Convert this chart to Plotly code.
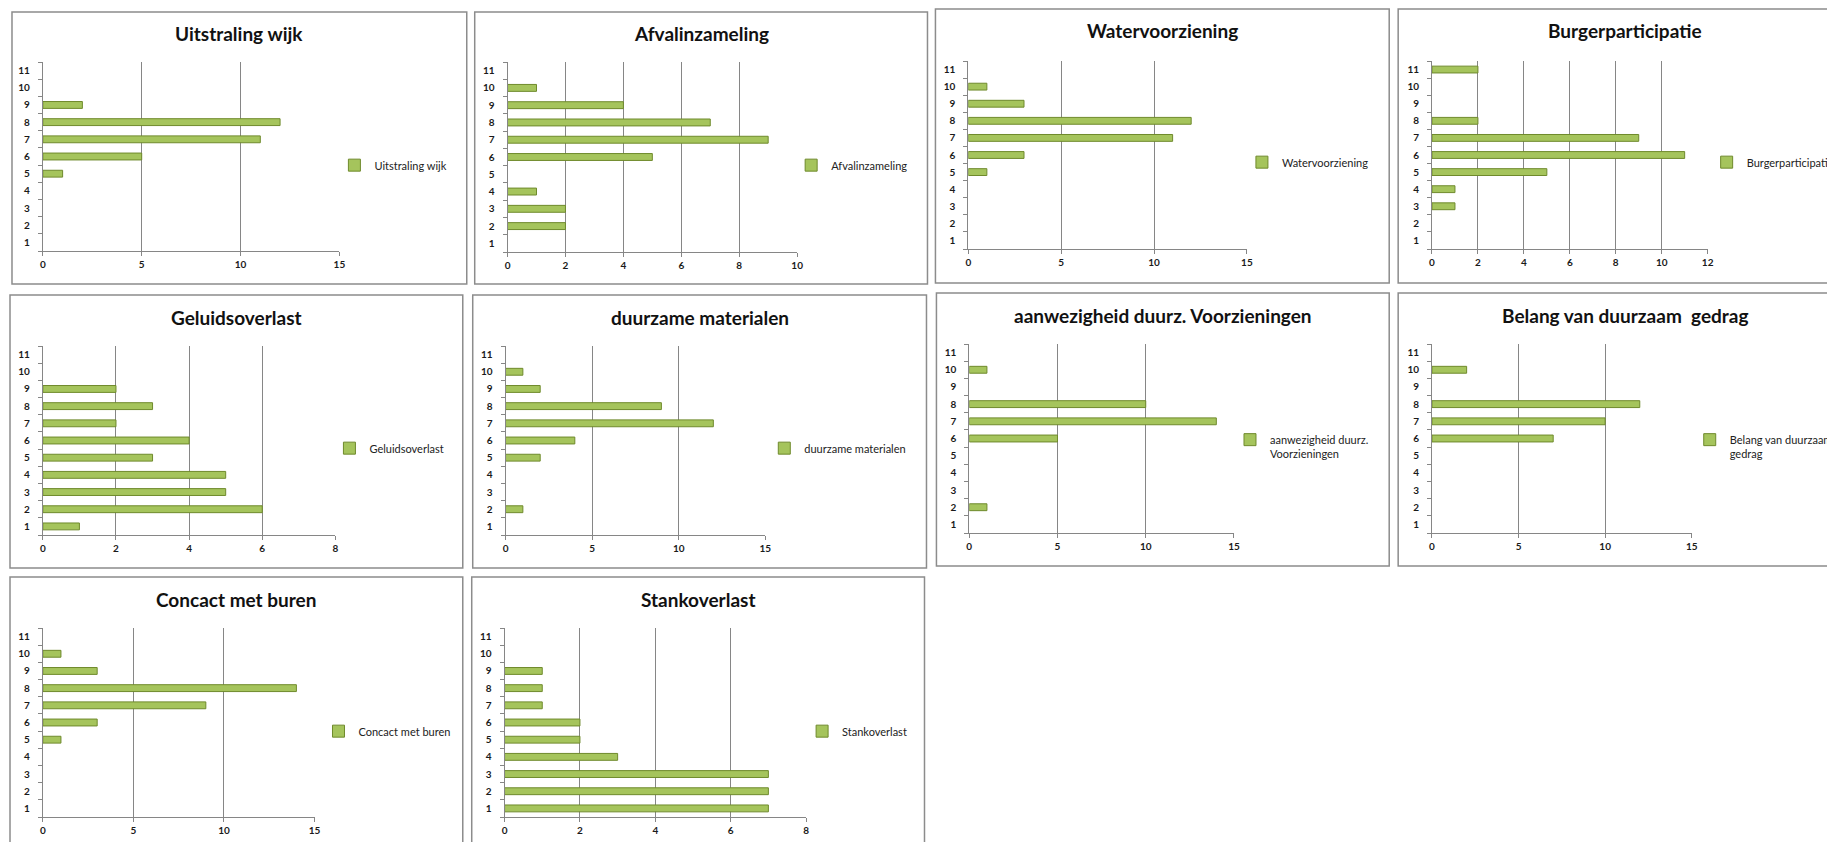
import plotly.graph_objects as go

# survey scores 1..11, count of answers per score
categories = list(range(1, 12))

uitstraling_wijk = [None, None, None, None, 1, 5, 11, 12, 2, None, None]
afvalinzameling = [None, 2, 2, 1, None, 5, 9, 7, 4, 1, None]
watervoorziening = [None, None, None, None, 1, 3, 11, 12, 3, 1, None]
burgerparticipatie = [None, None, 1, 1, 5, 11, 9, 2, None, None, 2]
geluidsoverlast = [1, 6, 5, 5, 3, 4, 2, 3, 2, None, None]
duurzame_materialen = [None, 1, None, None, 2, 4, 12, 9, 2, 1, None]
aanwezigheid_voorzieningen = [None, 1, None, None, None, 5, 14, 10, None, 1, None]
belang_duurzaam_gedrag = [None, None, None, None, None, 7, 10, 12, None, 2, None]
concact_met_buren = [None, None, None, None, 1, 3, 9, 14, 3, 1, None]
stankoverlast = [7, 7, 7, 3, 2, 2, 1, 1, 1, None, None]

titles = [
    "Uitstraling wijk", "Afvalinzameling", "Watervoorziening", "Burgerparticipatie",
    "Geluidsoverlast", "duurzame materialen", "aanwezigheid duurz. Voorzieningen",
    "Belang van duurzaam  gedrag", "Concact met buren", "Stankoverlast",
]
legend_names = [
    "Uitstraling wijk", "Afvalinzameling", "Watervoorziening", "Burgerparticipatie",
    "Geluidsoverlast", "duurzame materialen", "aanwezigheid duurz.<br>Voorzieningen",
    "Belang van duurzaam<br>gedrag", "Concact met buren", "Stankoverlast",
]
series = [
    uitstraling_wijk, afvalinzameling, watervoorziening, burgerparticipatie,
    geluidsoverlast, duurzame_materialen, aanwezigheid_voorzieningen,
    belang_duurzaam_gedrag, concact_met_buren, stankoverlast,
]
x_max = [15, 10, 15, 12, 8, 15, 15, 15, 15, 8]
x_step = [5, 2, 5, 2, 2, 5, 5, 5, 5, 2]

W, H = 1835, 842
OFF = 8  # the page body adds an 8px margin around the figure

# page pixel layout: (box x0, x1, y0, y1), (plot x0, x1, y0, y1), (legend marker x, y)
panels = [
    ((9, 466, 12, 284), (40, 338, 62, 251), (363, 166)),
    ((474, 929, 12, 284), (507, 798, 62, 252), (822, 166)),
    ((937, 1393, 9, 283), (970, 1250, 61, 249), (1275, 163)),
    ((1402, 1858, 9, 283), (1436, 1713, 61, 249), (1742, 163)),
    ((7, 462, 295, 568), (40, 334, 346, 535), (358, 449)),
    ((472, 928, 295, 568), (505, 766, 346, 535), (795, 449)),
    ((938, 1393, 293, 566), (971, 1237, 344, 533), (1263, 447)),
    ((1402, 1858, 293, 566), (1436, 1697, 344, 533), (1725, 447)),
    ((7, 462, 577, 860), (40, 313, 628, 817), (347, 732)),
    ((471, 926, 577, 860), (504, 807, 628, 817), (833, 732)),
]


def px_x(v):
    return (v - OFF) / W


def px_y(v):
    return 1 - (v - OFF) / H


FONT = "Lato"
GRID = "#868686"
BAR_FILL = "#a5c45c"
BAR_EDGE = "#6f8a2c"

fig = go.Figure()
layout = dict(shapes=[], annotations=[])

for i, (box, plot, leg) in enumerate(panels):
    n = "" if i == 0 else str(i + 1)
    legend_key = "legend" + n

    fig.add_trace(go.Bar(
        y=categories,
        x=series[i],
        orientation="h",
        width=0.4,
        name=legend_names[i],
        marker=dict(color=BAR_FILL, line=dict(color=BAR_EDGE, width=1)),
        xaxis="x" + n,
        yaxis="y" + n,
        legend=legend_key,
        showlegend=True,
    ))

    px0, px1, py0, py1 = plot
    layout["xaxis" + n] = dict(
        domain=[px_x(px0), px_x(px1)],
        anchor="y" + n,
        range=[0, x_max[i]],
        dtick=x_step[i],
        tick0=0,
        showgrid=True, gridcolor=GRID, gridwidth=1,
        zeroline=False,
        showline=True, linecolor=GRID, linewidth=1,
        ticks="outside", ticklen=4, tickcolor=GRID,
        tickfont=dict(family=FONT, size=10, color="#1a1a1a", weight="bold"),
        fixedrange=True,
    )
    layout["yaxis" + n] = dict(
        domain=[px_y(py1), px_y(py0)],
        anchor="x" + n,
        range=[0.5, 11.5],
        tickvals=categories,
        showgrid=False,
        zeroline=False,
        showline=True, linecolor=GRID, linewidth=1,
        ticks="outside", ticklen=10, tickcolor="rgba(0,0,0,0)",
        minor=dict(tickvals=[c - 0.5 for c in categories] + [11.5],
                   ticks="outside", ticklen=4, tickcolor=GRID, showgrid=False),
        tickfont=dict(family=FONT, size=10, color="#1a1a1a", weight="bold"),
        fixedrange=True,
    )

    mx, my = leg
    layout[legend_key] = dict(
        x=px_x(mx - 30), y=px_y(my),
        xanchor="left", yanchor="middle",
        bgcolor="rgba(0,0,0,0)",
        font=dict(family=FONT, size=11, color="#222222"),
        valign="top",
        itemwidth=30,
    )

    bx0, bx1, by0, by1 = box
    layout["shapes"].append(dict(
        type="rect", xref="paper", yref="paper",
        x0=px_x(bx0), x1=px_x(bx1), y0=px_y(by1), y1=px_y(by0),
        line=dict(color="#8c8c8c", width=1.5), fillcolor="rgba(0,0,0,0)",
        layer="below",
    ))
    layout["annotations"].append(dict(
        text="<b>" + titles[i] + "</b>",
        xref="paper", yref="paper",
        x=px_x((bx0 + bx1) / 2), y=px_y(by0 + 22),
        xanchor="center", yanchor="middle",
        showarrow=False,
        font=dict(family=FONT, size=19, color="#111111"),
    ))

fig.update_layout(
    width=W, height=H,
    margin=dict(l=0, r=0, t=0, b=0),
    paper_bgcolor="white",
    plot_bgcolor="white",
    **layout,
)

fig.write_html("out.html")
